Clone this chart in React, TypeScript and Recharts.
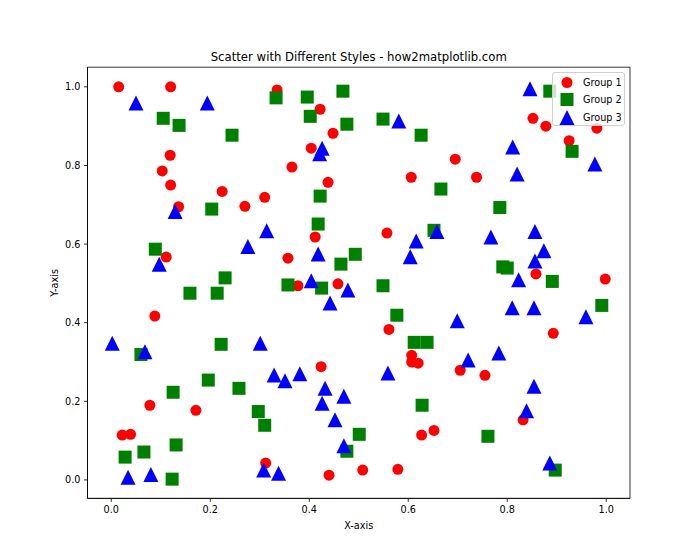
import React from "react";
import {
  ScatterChart,
  Scatter,
  XAxis,
  YAxis,
  ReferenceArea,
  Legend,
} from "recharts";

// values
const group1X = [
  0.015, 0.12, 0.119, 0.103, 0.12, 0.224, 0.31, 0.136, 0.27, 0.111,
  0.335, 0.422, 0.448, 0.404, 0.365, 0.438, 0.606, 0.412, 0.557, 0.357,
  0.377, 0.458, 0.852, 0.878, 0.981, 0.925, 0.695, 0.738, 0.858, 0.998,
  0.088, 0.078, 0.171, 0.022, 0.039, 0.312, 0.561, 0.607, 0.607, 0.62,
  0.424, 0.627, 0.652, 0.44, 0.508, 0.579, 0.893, 0.705, 0.755, 0.832,
];
const group1Y = [
  1.0, 1.0, 0.826, 0.786, 0.75, 0.734, 0.719, 0.695, 0.696, 0.567,
  0.992, 0.943, 0.882, 0.844, 0.796, 0.757, 0.77, 0.618, 0.628, 0.564,
  0.494, 0.499, 0.92, 0.9, 0.895, 0.863, 0.816, 0.77, 0.524, 0.511,
  0.417, 0.19, 0.177, 0.114, 0.116, 0.043, 0.383, 0.317, 0.3, 0.297,
  0.288, 0.114, 0.126, 0.012, 0.025, 0.027, 0.373, 0.279, 0.266, 0.153,
];

const group2X = [
  0.105, 0.137, 0.244, 0.203, 0.089, 0.23, 0.333, 0.396, 0.468, 0.402,
  0.476, 0.549, 0.626, 0.666, 0.422, 0.418, 0.652, 0.493, 0.464, 0.357,
  0.425, 0.549, 0.886, 0.931, 0.785, 0.791, 0.8, 0.891, 0.159, 0.214,
  0.222, 0.06, 0.196, 0.125, 0.258, 0.297, 0.31, 0.131, 0.066, 0.028,
  0.123, 0.577, 0.612, 0.638, 0.628, 0.501, 0.476, 0.991, 0.761, 0.897,
];
const group2Y = [
  0.92, 0.902, 0.877, 0.689, 0.587, 0.514, 0.972, 0.974, 0.989, 0.925,
  0.905, 0.918, 0.877, 0.74, 0.722, 0.651, 0.635, 0.574, 0.549, 0.496,
  0.488, 0.494, 0.989, 0.836, 0.693, 0.542, 0.539, 0.505, 0.475, 0.475,
  0.345, 0.319, 0.254, 0.223, 0.233, 0.174, 0.139, 0.089, 0.071, 0.058,
  0.002, 0.419, 0.35, 0.35, 0.19, 0.116, 0.073, 0.444, 0.111, 0.025,
];

const group3X = [
  0.05, 0.194, 0.129, 0.314, 0.276, 0.097, 0.581, 0.426, 0.421, 0.658,
  0.616, 0.604, 0.418, 0.404, 0.478, 0.442, 0.846, 0.811, 0.82, 0.977,
  0.767, 0.856, 0.874, 0.856, 0.823, 0.002, 0.068, 0.301, 0.034, 0.08,
  0.308, 0.329, 0.351, 0.381, 0.559, 0.432, 0.47, 0.426, 0.452, 0.47,
  0.338, 0.81, 0.854, 0.699, 0.959, 0.783, 0.721, 0.854, 0.839, 0.886,
];
const group3Y = [
  0.959, 0.959, 0.683, 0.634, 0.594, 0.549, 0.913, 0.844, 0.83, 0.632,
  0.608, 0.568, 0.575, 0.507, 0.483, 0.45, 0.995, 0.847, 0.778, 0.804,
  0.618, 0.632, 0.583, 0.557, 0.509, 0.348, 0.326, 0.348, 0.007, 0.014,
  0.025, 0.267, 0.252, 0.27, 0.272, 0.233, 0.213, 0.195, 0.153, 0.087,
  0.017, 0.438, 0.438, 0.405, 0.415, 0.323, 0.305, 0.238, 0.176, 0.043,
];

const ticks = [0, 0.2, 0.4, 0.6, 0.8, 1.0];
const groupNames = ["Group 1", "Group 2", "Group 3"];
const groupColors = ["#ff0000", "#008000", "#0000ff"];

const zip = (xs: number[], ys: number[]) => xs.map((x, i) => ({ x, y: ys[i] }));

const FONT = "DejaVu Sans";
const TICK = { fill: "#000", fontSize: 9.7, fontFamily: FONT };

function Circle({ cx, cy, fill }: any) {
  return <circle cx={cx} cy={cy} r={5.5} fill={fill} />;
}
function Square({ cx, cy, fill }: any) {
  return <rect x={cx - 6.5} y={cy - 6.5} width={13} height={13} fill={fill} />;
}
function Triangle({ cx, cy, fill }: any) {
  const h = 7.5;
  return (
    <polygon
      points={`${cx},${cy - h} ${cx - h},${cy + h} ${cx + h},${cy + h}`}
      fill={fill}
    />
  );
}
const shapes = [Circle, Square, Triangle];

function LegendBox() {
  return (
    <div
      style={{
        width: 73,
        height: 54,
        border: "1px solid #d0d0d0",
        borderRadius: 3,
        background: "rgba(255,255,255,0.8)",
        fontFamily: FONT,
        fontSize: 9.7,
        color: "#000",
        paddingTop: 1,
        boxSizing: "border-box",
        textAlign: "left",
      }}
    >
      {groupNames.map((name, i) => {
        const Shape = shapes[i];
        return (
          <div key={name} style={{ display: "flex", alignItems: "center", height: 17.3 }}>
            <svg width={30} height={17}>
              <Shape cx={14} cy={8.5} fill={groupColors[i]} />
            </svg>
            <span>{name}</span>
          </div>
        );
      })}
    </div>
  );
}

export default function App() {
  const groups = [zip(group1X, group1Y), zip(group2X, group2Y), zip(group3X, group3Y)];
  return (
    <div style={{ position: "absolute", left: 0, top: 0, width: 700, height: 560, background: "#fff" }}>
      <div
        style={{
          position: "absolute",
          left: 87.5,
          top: 50,
          width: 542.5,
          textAlign: "center",
          fontFamily: FONT,
          fontSize: 11.7,
          color: "#000",
          whiteSpace: "nowrap",
        }}
      >
        Scatter with Different Styles - how2matplotlib.com
      </div>
      <ScatterChart
        width={700}
        height={560}
        margin={{ top: 67.2, right: 70, left: 22.5, bottom: 6.4 }}
        style={{ fontFamily: FONT }}
      >
        <XAxis
          type="number"
          dataKey="x"
          domain={[-0.048, 1.048]}
          ticks={ticks}
          tickFormatter={(v) => v.toFixed(1)}
          allowDataOverflow
          height={55.2}
          tick={TICK}
          tickSize={3.5}
          tickMargin={4.5}
          axisLine={{ stroke: "#000", strokeWidth: 0.8 }}
          tickLine={{ stroke: "#000", strokeWidth: 0.8 }}
          label={{ value: "X-axis", position: "center", fill: "#000", fontSize: 9.7, fontFamily: FONT }}
        />
        <YAxis
          type="number"
          dataKey="y"
          domain={[-0.047, 1.05]}
          ticks={ticks}
          tickFormatter={(v) => v.toFixed(1)}
          allowDataOverflow
          width={65}
          tick={TICK}
          tickSize={3.5}
          tickMargin={3.5}
          axisLine={{ stroke: "#000", strokeWidth: 0.8 }}
          tickLine={{ stroke: "#000", strokeWidth: 0.8 }}
          label={{ value: "Y-axis", position: "center", angle: -90, fill: "#000", fontSize: 9.7, fontFamily: FONT }}
        />
        <ReferenceArea
          x1={-0.048}
          x2={1.048}
          y1={-0.047}
          y2={1.05}
          fill="none"
          stroke="#000"
          strokeWidth={0.8}
          fillOpacity={0}
        />
        {groups.map((data, i) => {
          const Shape = shapes[i];
          return (
            <Scatter
              key={groupNames[i]}
              name={groupNames[i]}
              data={data}
              fill={groupColors[i]}
              isAnimationActive={false}
              shape={(p: any) => <Shape cx={p.cx} cy={p.cy} fill={groupColors[i]} />}
            />
          );
        })}
        <Legend
          layout="horizontal"
          align="center"
          verticalAlign="middle"
          content={() => <LegendBox />}
          wrapperStyle={{ left: 552, top: 72, width: 73, height: 54, right: "auto", bottom: "auto" }}
        />
      </ScatterChart>
    </div>
  );
}
